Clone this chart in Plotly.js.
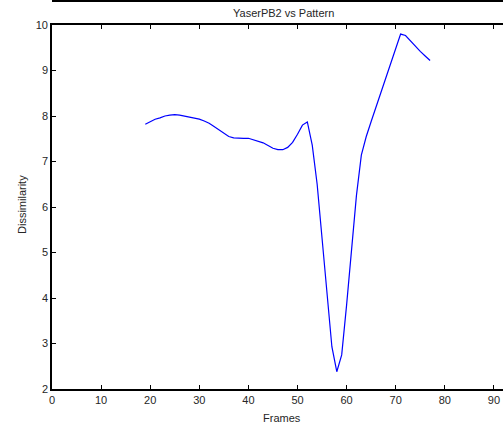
<!DOCTYPE html>
<html>
<head>
<meta charset="utf-8">
<script src="https://cdn.plot.ly/plotly-3.0.1.min.js"></script>
<style>html,body{margin:0;padding:0;background:#fff;}#chart{width:503px;height:427px;}</style>
</head>
<body>
<div id="chart"></div>
<script>
const frames = [19,20,21,22,23,24,25,26,27,28,29,30,31,32,33,34,35,36,37,38,39,40,41,42,43,44,45,46,47,48,49,50,51,52,53,54,55,56,57,58,59,60,61,62,63,64,65,66,67,68,69,70,71,72,73,74,75,76,77];
const dissimilarity = [7.82,7.88,7.93,7.96,8.00,8.02,8.03,8.02,8.00,7.98,7.95,7.93,7.89,7.84,7.77,7.70,7.62,7.55,7.52,7.51,7.51,7.51,7.48,7.45,7.41,7.35,7.29,7.26,7.26,7.31,7.42,7.60,7.80,7.87,7.36,6.50,5.25,4.00,2.93,2.38,2.75,3.85,5.05,6.25,7.14,7.55,7.88,8.20,8.52,8.85,9.20,9.52,9.80,9.77,9.65,9.53,9.42,9.32,9.22];
const xTicks = [0,10,20,30,40,50,60,70,80,90];
const yTicks = [2,3,4,5,6,7,8,9,10];
const titleText = 'YaserPB2 vs Pattern';
const xLabel = 'Frames';
const yLabel = 'Dissimilarity';

const font = {family: '"Liberation Sans", Arial, Helvetica, sans-serif', size: 11, color: '#262626'};

const trace = {
  x: frames, y: dissimilarity, type: 'scatter', mode: 'lines',
  line: {color: '#0000ff', width: 1.2}, hoverinfo: 'skip'
};

const layout = {
  width: 503, height: 427,
  margin: {l: 52, r: 0, t: 25, b: 38, pad: 0},
  paper_bgcolor: '#ffffff', plot_bgcolor: '#ffffff',
  showlegend: false,
  font: font,
  xaxis: {
    range: [0, 91.85], tickvals: xTicks, ticktext: xTicks.map(String),
    ticks: 'inside', ticklen: 4, tickwidth: 1, tickcolor: '#000',
    showline: true, linecolor: '#000', linewidth: 1.8, mirror: 'ticks',
    showgrid: false, zeroline: false, tickfont: font, fixedrange: true
  },
  yaxis: {
    range: [2, 10], tickvals: yTicks, ticktext: yTicks.map(String),
    ticks: 'inside', ticklen: 4, tickwidth: 1, tickcolor: '#000',
    showline: true, linecolor: '#000', linewidth: 1.8, mirror: false,
    showgrid: false, zeroline: false, tickfont: font, fixedrange: true
  },
  shapes: [
    {type: 'line', xref: 'paper', yref: 'paper', x0: 0, x1: 1.05, y0: 1 + 24/364, y1: 1 + 24/364,
     line: {color: '#000', width: 2}}
  ],
  annotations: [
    {text: titleText, xref: 'paper', yref: 'paper', x: (283-52)/451, y: 1 + 12/364,
     xanchor: 'center', yanchor: 'middle', showarrow: false, font: font},
    {text: xLabel, xref: 'paper', yref: 'paper', x: (282-52)/451, y: -29/364,
     xanchor: 'center', yanchor: 'middle', showarrow: false, font: font},
    {text: yLabel, xref: 'paper', yref: 'paper', x: -30/451, y: (389-205)/364,
     xanchor: 'center', yanchor: 'middle', textangle: -90, showarrow: false, font: font},
    {text: '1', xref: 'paper', yref: 'paper', x: -8/451, y: 1 + 30/364,
     xanchor: 'right', yanchor: 'middle', showarrow: false, font: font}
  ]
};

Plotly.newPlot('chart', [trace], layout, {staticPlot: true, displayModeBar: false});
</script>
</body>
</html>
